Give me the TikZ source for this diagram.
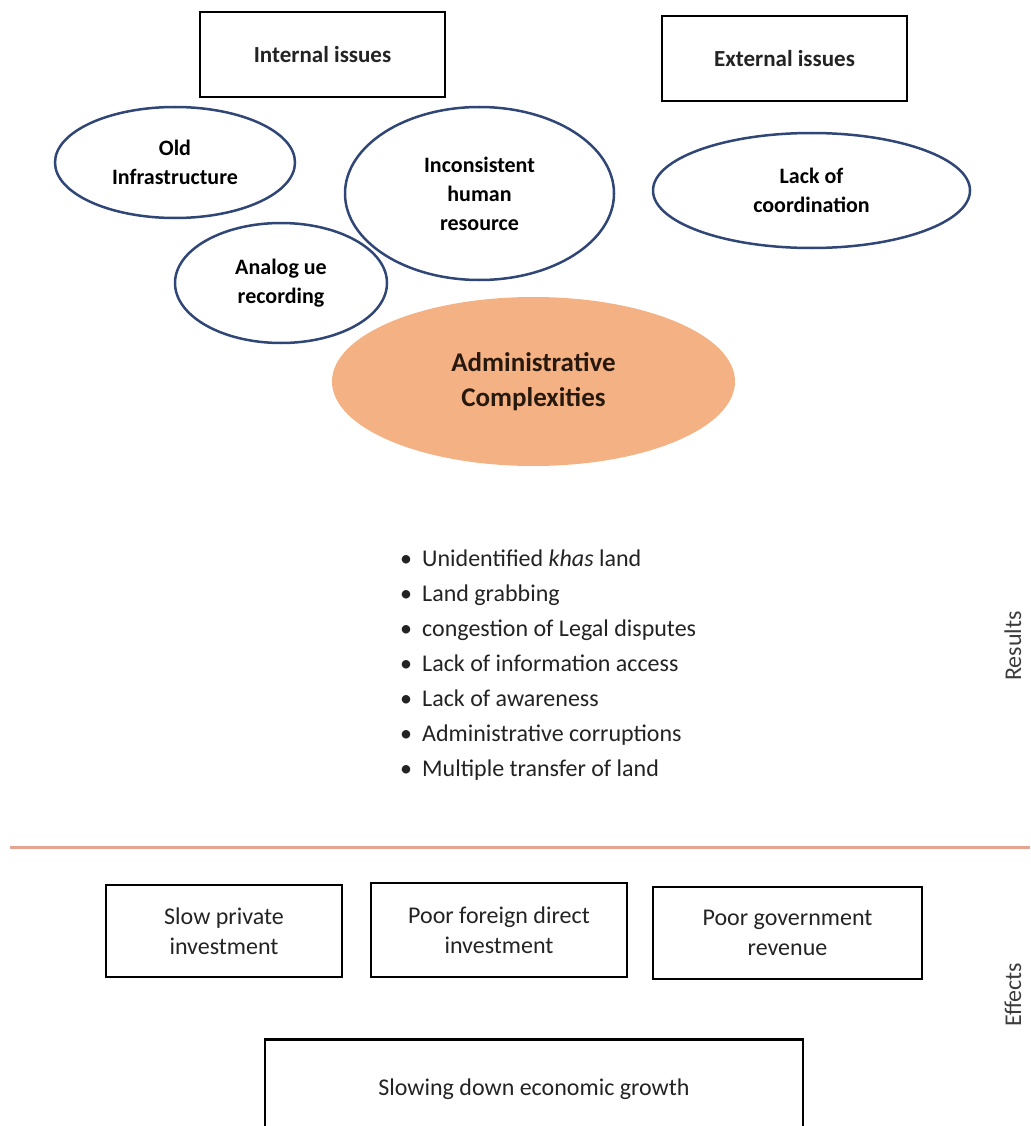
\documentclass[tikz,border=0pt]{standalone}
\usepackage{fontspec}
\setmainfont{Carlito}
\usetikzlibrary{shapes.geometric}

\definecolor{navy}{RGB}{47,70,118}
\definecolor{peach}{RGB}{244,177,131}
\definecolor{salmon}{RGB}{230,165,145}
\definecolor{ink}{RGB}{35,35,35}
\definecolor{greyink}{RGB}{60,60,60}
\definecolor{brownink}{RGB}{40,25,15}

\begin{document}
\begin{tikzpicture}[x=1pt, y=-1pt,
  headbox/.style={draw=black, line width=2pt, rectangle, inner sep=0pt,
    text=ink, font=\fontsize{23}{28}\selectfont\bfseries},
  cause/.style={draw=navy, line width=2.5pt, ellipse, inner sep=0pt,
    align=center, text=black, font=\fontsize{22}{29}\selectfont\bfseries},
  core/.style={fill=peach, draw=none, ellipse, inner sep=0pt,
    align=center, text=brownink, font=\fontsize{27}{35}\selectfont\bfseries},
  resultline/.style={anchor=base west, inner sep=0pt, text=ink,
    font=\fontsize{24}{30}\selectfont},
  effbox/.style={draw=black, line width=2.5pt, rectangle, inner sep=0pt,
    align=center, text=ink, font=\fontsize{24}{30}\selectfont},
  sidelabel/.style={rotate=90, anchor=base, inner sep=0pt, text=greyink,
    font=\fontsize{24}{30}\selectfont}]

\useasboundingbox (0,0) rectangle (1030,1126);
\clip (0,0) rectangle (1030,1126);

% headings of the two groups of causes
\node[headbox, minimum width=245pt, minimum height=85pt] (internal) at (322.5,54.5) {Internal issues};
\node[headbox, minimum width=245pt, minimum height=85pt] (external) at (784.5,58.5) {External issues};

% central problem
\node[core, minimum width=403pt, minimum height=169pt] (admin) at (533.5,381.5) {Administrative\\Complexities};

% causes
\node[cause, minimum width=240pt, minimum height=111pt] (oldinfra) at (175,162.5) {Old\\Infrastructure};
\node[cause, minimum width=269pt, minimum height=173pt] (human) at (479.5,193.5) {Inconsistent\\human\\resource};
\node[cause, minimum width=212pt, minimum height=120pt] (analogue) at (281,283) {Analog ue\\recording};
\node[cause, minimum width=317pt, minimum height=115pt] (coord) at (811.5,190.5) {Lack of\\coordination};

% results
\foreach \t [count=\k from 0] in {{Unidentified \textit{khas} land}, {Land grabbing},
    {congestion of Legal disputes}, {Lack of information access},
    {Lack of awareness}, {Administrative corruptions}, {Multiple transfer of land}}
  \node[resultline] (result\k) at (400,566+35*\k) {\makebox[22pt][l]{•}\t};

\node[sidelabel] (resultslabel) at (1021,646) {Results};

% divider between results and effects
\coordinate (divL) at (10,847);
\coordinate (divR) at (1030,847);
\draw[salmon, line width=3pt] (divL) -- (divR);

% effects
\node[effbox, minimum width=236pt, minimum height=92pt] (private) at (224,931) {Slow private\\investment};
\node[effbox, minimum width=256pt, minimum height=94pt] (fdi) at (499,930) {Poor foreign direct\\investment};
\node[effbox, minimum width=269pt, minimum height=92pt] (revenue) at (787.5,933) {Poor government\\revenue};
\node[effbox, minimum width=538pt, minimum height=100pt, anchor=north] (growth) at (534,1038) {Slowing down economic growth};

\node[sidelabel] (effectslabel) at (1021,995) {Effects};
\end{tikzpicture}
\end{document}
